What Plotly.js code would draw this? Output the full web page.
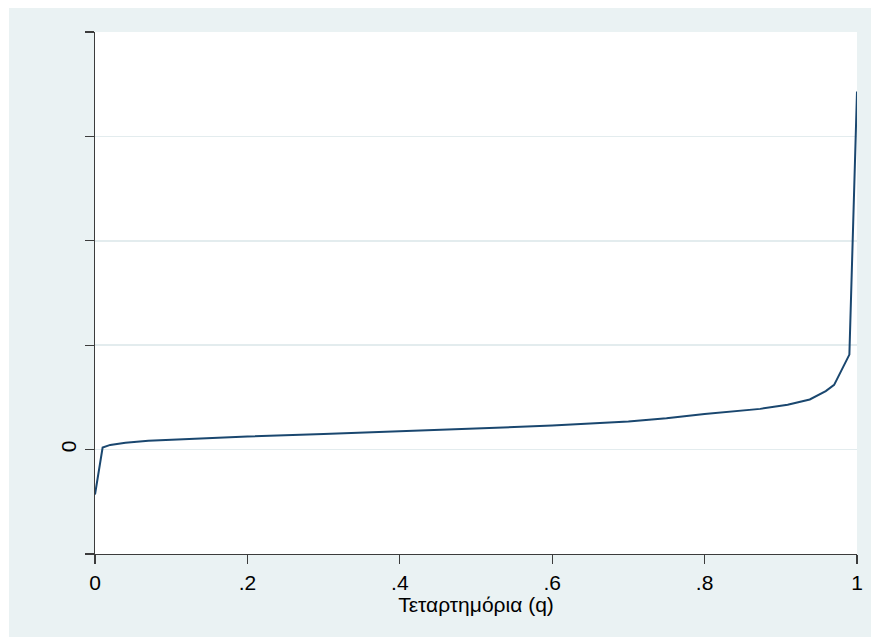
<!DOCTYPE html>
<html>
<head>
<meta charset="utf-8">
<script src="https://cdn.plot.ly/plotly-3.0.1.min.js"></script>
<style>
  html, body { margin: 0; padding: 0; background: #ffffff; width: 871px; height: 637px; overflow: hidden; }
  #chart { position: absolute; left: 9px; top: 8px; width: 862px; height: 629px; }
</style>
</head>
<body>
<div id="chart"></div>
<script>
// Quantile fractions (q) and quantile values (y, in units of the y tick step)
const qValues = [0, 0.01, 0.02, 0.04, 0.07, 0.10, 0.15, 0.20, 0.30, 0.40, 0.50, 0.60, 0.70, 0.75, 0.80, 0.85, 0.873, 0.909, 0.938, 0.959, 0.97, 0.99, 1.0];
const yValues = [-0.43, 0.02, 0.045, 0.065, 0.085, 0.095, 0.11, 0.125, 0.15, 0.175, 0.20, 0.23, 0.27, 0.30, 0.34, 0.37, 0.39, 0.43, 0.48, 0.56, 0.62, 0.91, 3.43];

const xTickVals = [0, 0.2, 0.4, 0.6, 0.8, 1];
const xTickText = ['0', '.2', '.4', '.6', '.8', '1'];
const yTickVals = [-1, 0, 1, 2, 3, 4];
const yTickText = ['', '0', '', '', '', ''];
const xTitle = 'Τεταρτημόρια (q)';

const bg = '#eaf2f3';
const gridColor = '#e3ecee';
const axisColor = '#3c3c3c';
const fontFamily = 'Liberation Sans, Arial, sans-serif';
const fontSize = 21;

const trace = {
  x: qValues,
  y: yValues,
  type: 'scatter',
  mode: 'lines',
  line: { color: '#1a476f', width: 2 },
  hoverinfo: 'skip'
};

const layout = {
  width: 862,
  height: 629,
  paper_bgcolor: bg,
  plot_bgcolor: '#ffffff',
  margin: { l: 86, r: 14, t: 24, b: 83 },
  showlegend: false,
  font: { family: fontFamily, size: fontSize, color: '#000000' },
  xaxis: {
    range: [0, 1],
    tickvals: xTickVals,
    ticktext: xTickText,
    ticks: 'outside',
    ticklen: 9,
    tickwidth: 1.3,
    tickcolor: axisColor,
    showline: true,
    linecolor: axisColor,
    linewidth: 1.3,
    showgrid: false,
    zeroline: false,
    tickfont: { family: fontFamily, size: fontSize, color: '#000000' },
    title: { text: xTitle, font: { family: fontFamily, size: fontSize, color: '#000000' }, standoff: 0 }
  },
  yaxis: {
    range: [-1, 4],
    tickvals: yTickVals,
    ticktext: yTickText,
    tickangle: -90,
    ticks: 'outside',
    ticklen: 9,
    tickwidth: 1.3,
    tickcolor: axisColor,
    showline: true,
    linecolor: axisColor,
    linewidth: 1.3,
    showgrid: true,
    gridcolor: gridColor,
    gridwidth: 1.5,
    zeroline: false,
    tickfont: { family: fontFamily, size: fontSize, color: '#000000' }
  }
};

Plotly.newPlot('chart', [trace], layout, { displayModeBar: false, staticPlot: true });
</script>
</body>
</html>
